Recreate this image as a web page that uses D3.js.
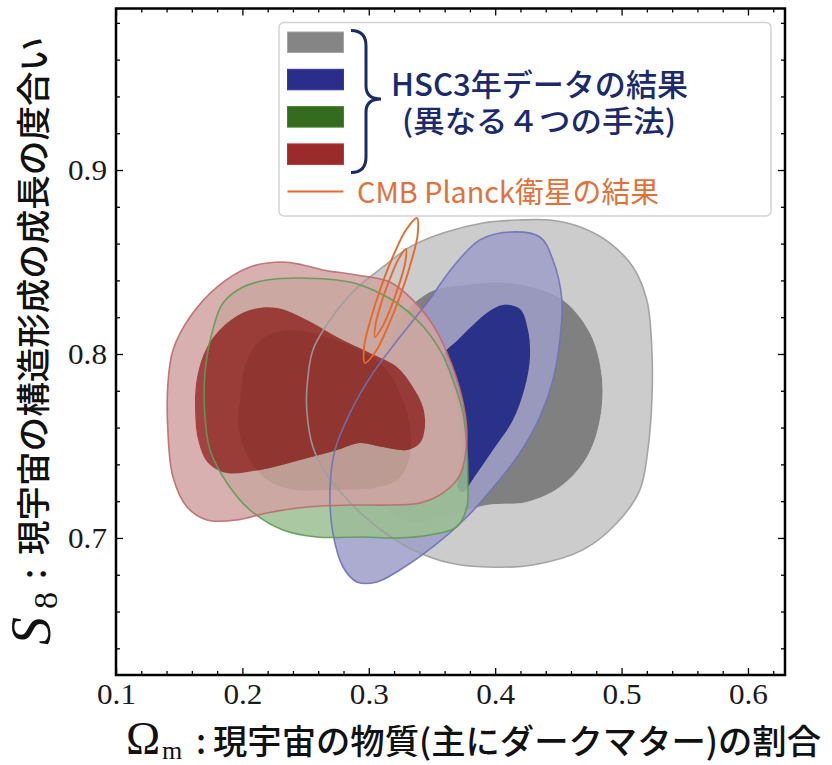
<!DOCTYPE html>
<html><head><meta charset="utf-8">
<script src="https://cdn.jsdelivr.net/npm/d3@7"></script>
<style>html,body{margin:0;padding:0;background:#fff;} svg{display:block}</style>
</head><body>
<svg id="chart" width="832" height="765"></svg>
<script>
// ---- axis ranges and ticks ----
const xDomain = [0.1, 0.6293];
const yDomain = [0.6255, 0.9878];
const xMajor = [0.1, 0.2, 0.3, 0.4, 0.5, 0.6];
const xMinor = [0.12,0.14,0.16,0.18,0.22,0.24,0.26,0.28,0.32,0.34,0.36,0.38,0.42,0.44,0.46,0.48,0.52,0.54,0.56,0.58,0.62];
const yMajor = [0.7, 0.8, 0.9];
const yMinor = [0.64,0.66,0.68,0.72,0.74,0.76,0.78,0.82,0.84,0.86,0.88,0.92,0.94,0.96,0.98];

// ---- contours (Omega_m, S8) ----
const grayOuter = [[0.4172,0.8728],[0.4433,0.8728],[0.4694,0.8685],[0.4908,0.8603],[0.5090,0.8473],[0.5200,0.8293],[0.5240,0.8022],[0.5240,0.7750],[0.5208,0.7478],[0.5145,0.7261],[0.4963,0.7081],[0.4694,0.6935],[0.4298,0.6853],[0.3935,0.6842],[0.3642,0.6864],[0.3349,0.6935],[0.3152,0.7016],[0.2970,0.7114],[0.2811,0.7223],[0.2669,0.7342],[0.2558,0.7494],[0.2511,0.7679],[0.2511,0.7821],[0.2558,0.8022],[0.2693,0.8185],[0.2906,0.8359],[0.3112,0.8473],[0.3326,0.8582],[0.3587,0.8658],[0.3903,0.8712]];
const grayInner = [[0.4109,0.8386],[0.4512,0.8304],[0.4749,0.8114],[0.4844,0.7875],[0.4828,0.7641],[0.4726,0.7440],[0.4512,0.7277],[0.4251,0.7196],[0.3935,0.7179],[0.3642,0.7125],[0.3365,0.7087],[0.3167,0.7141],[0.3088,0.7315],[0.3080,0.7641],[0.3128,0.7940],[0.3246,0.8185],[0.3484,0.8337],[0.3761,0.8375]];
const blueOuter = [[0.4117,0.8663],[0.4354,0.8636],[0.4457,0.8511],[0.4528,0.8293],[0.4512,0.8076],[0.4457,0.7859],[0.4354,0.7658],[0.4196,0.7462],[0.4014,0.7299],[0.3776,0.7114],[0.3507,0.6951],[0.3246,0.6826],[0.3065,0.6761],[0.2906,0.6761],[0.2796,0.6842],[0.2716,0.7027],[0.2693,0.7261],[0.2732,0.7478],[0.2851,0.7679],[0.3033,0.7897],[0.3246,0.8092],[0.3460,0.8277],[0.3666,0.8473],[0.3879,0.8620]];
const blueInner = [[0.4061,0.8266],[0.4196,0.8245],[0.4259,0.8130],[0.4275,0.7984],[0.4235,0.7821],[0.4140,0.7641],[0.3982,0.7478],[0.3840,0.7337],[0.3745,0.7250],[0.3705,0.7272],[0.3729,0.7424],[0.3721,0.7587],[0.3689,0.7750],[0.3626,0.7902],[0.3594,0.7995],[0.3705,0.8076],[0.3800,0.8141],[0.3935,0.8223]];
const greenOuter = [[0.2455,0.8413],[0.2194,0.8402],[0.2005,0.8364],[0.1846,0.8277],[0.1759,0.8114],[0.1704,0.7897],[0.1704,0.7658],[0.1744,0.7478],[0.1878,0.7299],[0.2060,0.7152],[0.2321,0.7043],[0.2590,0.7005],[0.2954,0.7005],[0.3223,0.7000],[0.3484,0.7016],[0.3697,0.7060],[0.3776,0.7168],[0.3784,0.7299],[0.3776,0.7494],[0.3745,0.7679],[0.3666,0.7859],[0.3563,0.8022],[0.3405,0.8168],[0.3223,0.8277],[0.3033,0.8348],[0.2851,0.8391]];
const greenInner = [[0.1981,0.7750],[0.2036,0.7967],[0.2163,0.8087],[0.2376,0.8130],[0.2614,0.8103],[0.2890,0.8033],[0.3128,0.7924],[0.3270,0.7750],[0.3333,0.7560],[0.3310,0.7408],[0.3223,0.7315],[0.3033,0.7272],[0.2693,0.7261],[0.2416,0.7261],[0.2194,0.7315],[0.2036,0.7451],[0.1965,0.7614]];
const redOuter = [[0.2321,0.8500],[0.2060,0.8473],[0.1799,0.8364],[0.1585,0.8201],[0.1451,0.8022],[0.1411,0.7842],[0.1411,0.7571],[0.1451,0.7331],[0.1562,0.7168],[0.1720,0.7098],[0.1957,0.7098],[0.2194,0.7136],[0.2511,0.7168],[0.2851,0.7179],[0.3167,0.7179],[0.3405,0.7190],[0.3587,0.7245],[0.3721,0.7342],[0.3776,0.7533],[0.3753,0.7712],[0.3658,0.7940],[0.3507,0.8158],[0.3349,0.8293],[0.3167,0.8391],[0.2906,0.8429],[0.2637,0.8457],[0.2479,0.8484]];
const redInner = [[0.2274,0.8250],[0.2060,0.8239],[0.1878,0.8168],[0.1720,0.8038],[0.1641,0.7875],[0.1625,0.7712],[0.1649,0.7533],[0.1728,0.7408],[0.1878,0.7353],[0.2139,0.7370],[0.2455,0.7424],[0.2748,0.7478],[0.2930,0.7516],[0.3112,0.7494],[0.3302,0.7478],[0.3405,0.7516],[0.3444,0.7603],[0.3428,0.7712],[0.3349,0.7821],[0.3223,0.7929],[0.3009,0.8005],[0.2748,0.8092],[0.2511,0.8185]];
const planckOuter = [[0.2970,0.7951],[0.3057,0.8016],[0.3142,0.8134],[0.3254,0.8326],[0.3345,0.8523],[0.3387,0.8651],[0.3381,0.8739],[0.3294,0.8674],[0.3208,0.8557],[0.3097,0.8364],[0.3006,0.8167],[0.2963,0.8039]];
const planckInner = [[0.3049,0.8092],[0.3106,0.8146],[0.3162,0.8230],[0.3212,0.8322],[0.3257,0.8415],[0.3290,0.8504],[0.3294,0.8571],[0.3236,0.8517],[0.3181,0.8433],[0.3130,0.8341],[0.3086,0.8248],[0.3053,0.8159]];

// ---- legend / labels ----
const legendColors = ["#858585", "#2b2d8a", "#356b1f", "#9b2a2a"];
const legendText1 = "HSC3年データの結果";
const legendText2 = "(異なる４つの手法)";
const legendText3 = "CMB Planck衛星の結果";
const xLabelText = "現宇宙の物質(主にダークマター)の割合";
const yLabelText = "現宇宙の構造形成の成長の度合い";

const svg = d3.select("#chart");
const L = 116, R = 785, T = 8.5, B = 675;
const x = d3.scaleLinear().domain(xDomain).range([L, R]);
const y = d3.scaleLinear().domain(yDomain).range([B, T]);

svg.append("defs").append("clipPath").attr("id","clip")
  .append("rect").attr("x",L).attr("y",T).attr("width",R-L).attr("height",B-T);

const line = d3.line().x(d=>x(d[0])).y(d=>y(d[1])).curve(d3.curveCatmullRomClosed.alpha(0.5));
const plot = svg.append("g").attr("clip-path","url(#clip)");

const sets = [
  {outer: grayOuter, inner: grayInner, oc:"#cccccc", oa:1, ic:"#808080", ia:1, sc:"#9d9d9d"},
  {outer: blueOuter, inner: blueInner, oc:"#9c9dc8", oa:0.85, ic:"#20288a", ia:0.9, sc:"#6f71b6"},
  {outer: greenOuter, inner: greenInner, oc:"#9bbf92", oa:0.85, ic:"#32692a", ia:0.85, sc:"#5e9b54"},
  {outer: redOuter, inner: redInner, oc:"#d1a2a2", oa:0.85, ic:"#982e2e", ia:0.9, sc:"#bb6b6b"}
];
sets.forEach(s => {
  plot.append("path").attr("d", line(s.outer) + line(s.inner))
    .attr("fill", s.oc).attr("fill-opacity", s.oa).attr("fill-rule","evenodd");
  plot.append("path").attr("d", line(s.inner))
    .attr("fill", s.ic).attr("fill-opacity", s.ia);
});
sets.forEach(s => {
  plot.append("path").attr("d", line(s.outer)).attr("fill","none")
    .attr("stroke", s.sc).attr("stroke-width",1.6).attr("stroke-opacity",0.9);
});
[planckOuter, planckInner].forEach(p => {
  plot.append("path").attr("d", line(p)).attr("fill","none")
    .attr("stroke","#e4692a").attr("stroke-width",1.9);
});

// ---- axes ----
function styleAxis(g, labels) {
  g.select(".domain").remove();
  g.selectAll(".tick line").attr("stroke","#000").attr("stroke-width",1.3);
  if (!labels) g.selectAll(".tick text").remove();
  else g.selectAll(".tick text").attr("font-family","'Liberation Serif', serif").attr("font-size",29)
        .attr("fill","#1a1a1a").attr("textLength",39).attr("lengthAdjust","spacingAndGlyphs");
}
svg.append("g").attr("transform",`translate(0,${B})`).call(d3.axisBottom(x).tickValues(xMajor).tickSize(-7).tickPadding(8).tickFormat(d3.format(".1f"))).call(g=>styleAxis(g,true));
svg.append("g").attr("transform",`translate(0,${B})`).call(d3.axisBottom(x).tickValues(xMinor).tickSize(-4).tickFormat("")).call(g=>styleAxis(g,false));
svg.append("g").attr("transform",`translate(0,${T})`).call(d3.axisTop(x).tickValues(xMajor).tickSize(-7).tickFormat("")).call(g=>styleAxis(g,false));
svg.append("g").attr("transform",`translate(0,${T})`).call(d3.axisTop(x).tickValues(xMinor).tickSize(-4).tickFormat("")).call(g=>styleAxis(g,false));
svg.append("g").attr("transform",`translate(${L},0)`).call(d3.axisLeft(y).tickValues(yMajor).tickSize(-7).tickPadding(9).tickFormat(d3.format(".1f"))).call(g=>styleAxis(g,true));
svg.append("g").attr("transform",`translate(${L},0)`).call(d3.axisLeft(y).tickValues(yMinor).tickSize(-4).tickFormat("")).call(g=>styleAxis(g,false));
svg.append("g").attr("transform",`translate(${R},0)`).call(d3.axisRight(y).tickValues(yMajor).tickSize(-7).tickFormat("")).call(g=>styleAxis(g,false));
svg.append("g").attr("transform",`translate(${R},0)`).call(d3.axisRight(y).tickValues(yMinor).tickSize(-4).tickFormat("")).call(g=>styleAxis(g,false));

svg.append("rect").attr("x",L).attr("y",T).attr("width",R-L).attr("height",B-T)
  .attr("fill","none").attr("stroke","#000").attr("stroke-width",2.5);

// ---- legend ----
const cjk = "'Noto Sans CJK JP', 'Noto Sans', sans-serif";
const lg = svg.append("g");
lg.append("rect").attr("x",279).attr("y",22.5).attr("width",492).attr("height",193.5).attr("rx",5)
  .attr("fill","#fff").attr("stroke","#d2d2d2").attr("stroke-width",1.5);
legendColors.forEach((c,i) => {
  lg.append("rect").attr("x",287.5).attr("y",32 + i*37.3).attr("width",56).attr("height",20.5)
    .attr("fill",c).attr("stroke",d3.color(c).brighter(0.6)).attr("stroke-width",1);
});
lg.append("path").attr("d","M351,30.5 Q366,30.5 366,46 L366,86 Q366,99 381,99 Q366,99 366,112 L366,157 Q366,172.5 351,172.5")
  .attr("fill","none").attr("stroke","#1b2a6b").attr("stroke-width",3);
lg.append("text").attr("x",391).attr("y",95.5).attr("textLength",297).attr("lengthAdjust","spacingAndGlyphs")
  .attr("font-family",cjk).attr("font-size",31).attr("font-weight",500).attr("fill","#1b2a6b").text(legendText1);
lg.append("text").attr("x",402).attr("y",132).attr("textLength",274).attr("lengthAdjust","spacingAndGlyphs")
  .attr("font-family",cjk).attr("font-size",30).attr("font-weight",500).attr("fill","#1b2a6b").text(legendText2);
lg.append("line").attr("x1",287.5).attr("x2",343.5).attr("y1",191.5).attr("y2",191.5).attr("stroke","#e4692a").attr("stroke-width",1.8);
lg.append("text").attr("x",357).attr("y",202.5).attr("textLength",302).attr("lengthAdjust","spacingAndGlyphs")
  .attr("font-family",cjk).attr("font-size",29).attr("font-weight",400).attr("fill","#e2703a").text(legendText3);

// ---- axis labels ----
svg.append("text").attr("x",126).attr("y",754).attr("font-family","'Liberation Serif', serif").attr("font-size",46).attr("fill","#111").text("Ω");
svg.append("text").attr("x",162).attr("y",759).attr("font-family","'Liberation Serif', serif").attr("font-size",26).attr("fill","#111").text("m");
svg.append("text").attr("x",196).attr("y",754).attr("font-family",cjk).attr("font-size",34).attr("font-weight",500).attr("fill","#111").text(":");
svg.append("text").attr("x",213).attr("y",754).attr("textLength",608).attr("lengthAdjust","spacingAndGlyphs")
  .attr("font-family",cjk).attr("font-size",34).attr("font-weight",500).attr("fill","#111").text(xLabelText);

const yl = svg.append("g").attr("transform","translate(50,645) rotate(-90)");
yl.append("text").attr("x",0).attr("y",0).attr("font-family","'Liberation Serif', serif").attr("font-style","italic").attr("font-size",56).attr("fill","#111").text("S");
yl.append("text").attr("x",36).attr("y",7).attr("font-family","'Liberation Serif', serif").attr("font-size",34).attr("fill","#111").text("8");
yl.append("text").attr("x",66).attr("y",-4).attr("font-family",cjk).attr("font-size",34).attr("font-weight",500).attr("fill","#111").text(":");
yl.append("text").attr("x",90).attr("y",-4).attr("textLength",518).attr("lengthAdjust","spacingAndGlyphs")
  .attr("font-family",cjk).attr("font-size",34).attr("font-weight",500).attr("fill","#111").text(yLabelText);
</script>
</body></html>
